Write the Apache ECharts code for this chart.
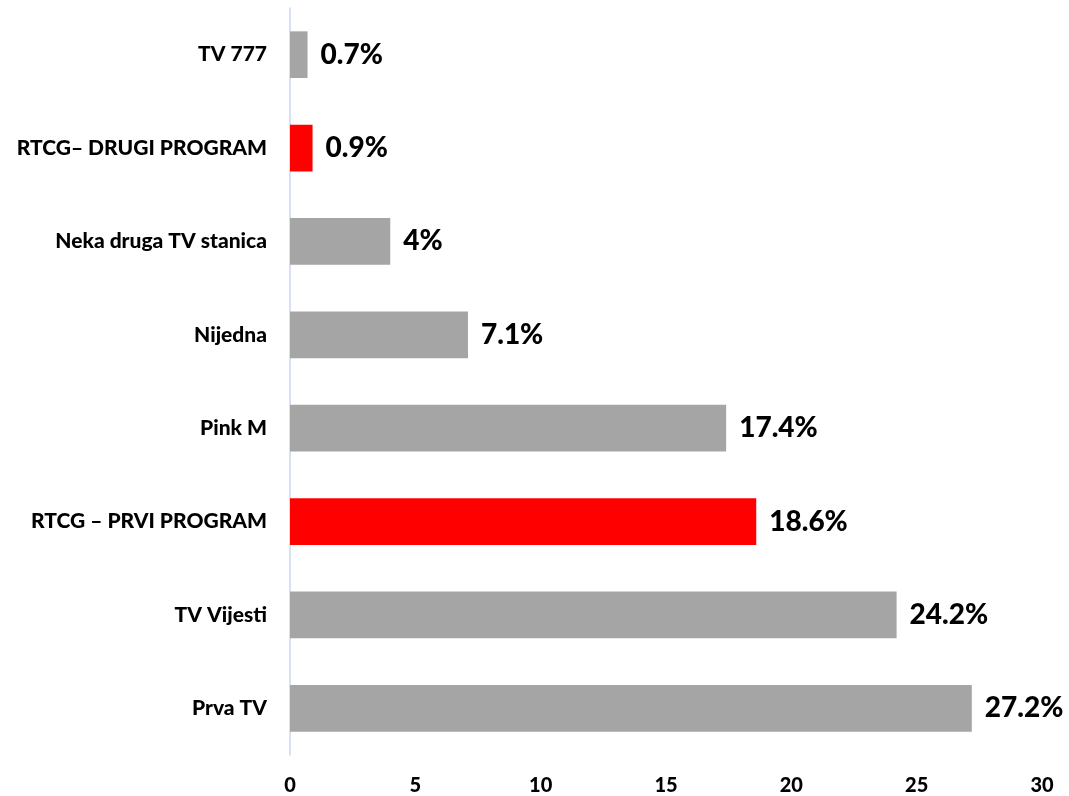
<!DOCTYPE html>
<html>
<head>
<meta charset="utf-8">
<script src="https://cdn.jsdelivr.net/npm/echarts@6/dist/echarts.min.js"></script>
<style>
  html, body { margin: 0; padding: 0; background: #fff; }
  #myChart { width: 1069px; height: 796px; }
</style>
</head>
<body>
<div id="myChart"></div>
<script>
// categories from bottom to top
const categories = ['Prva TV', 'TV Vijesti', 'RTCG – PRVI PROGRAM', 'Pink M', 'Nijedna',
  'Neka druga TV stanica', 'RTCG– DRUGI PROGRAM', 'TV 777'];
const values = [27.2, 24.2, 18.6, 17.4, 7.1, 4, 0.9, 0.7];
const highlighted = ['RTCG – PRVI PROGRAM', 'RTCG– DRUGI PROGRAM'];
const xTicks = [0, 5, 10, 15, 20, 25, 30];

const font = 'Lato, "Open Sans", sans-serif';

let myChart = echarts.init(document.getElementById('myChart'));
let option = {
  animation: false,
  grid: { left: 290, right: 27, top: 8, bottom: 41 },
  xAxis: {
    type: 'value',
    min: xTicks[0],
    max: xTicks[xTicks.length - 1],
    interval: 5,
    axisLine: { show: false },
    axisTick: { show: false },
    splitLine: { show: false },
    axisLabel: { color: '#000', fontWeight: 900, fontSize: 20, fontFamily: font, margin: 21 }
  },
  yAxis: {
    type: 'category',
    data: categories,
    axisLine: { show: true, lineStyle: { color: '#C9D7EF', width: 1.5 } },
    axisTick: { show: false },
    axisLabel: { color: '#000', fontWeight: 900, fontSize: 21, fontFamily: font, margin: 23 }
  },
  series: [{
    type: 'bar',
    barCategoryGap: '50%',
    data: values.map((v, i) => ({
      value: v,
      itemStyle: { color: highlighted.includes(categories[i]) ? '#FF0000' : '#A5A5A5' }
    })),
    label: {
      show: true,
      position: 'right',
      distance: 13,
      formatter: '{c}%',
      color: '#000',
      fontWeight: 900,
      fontSize: 28,
      fontFamily: font
    }
  }]
};
myChart.setOption(option);
</script>
</body>
</html>
